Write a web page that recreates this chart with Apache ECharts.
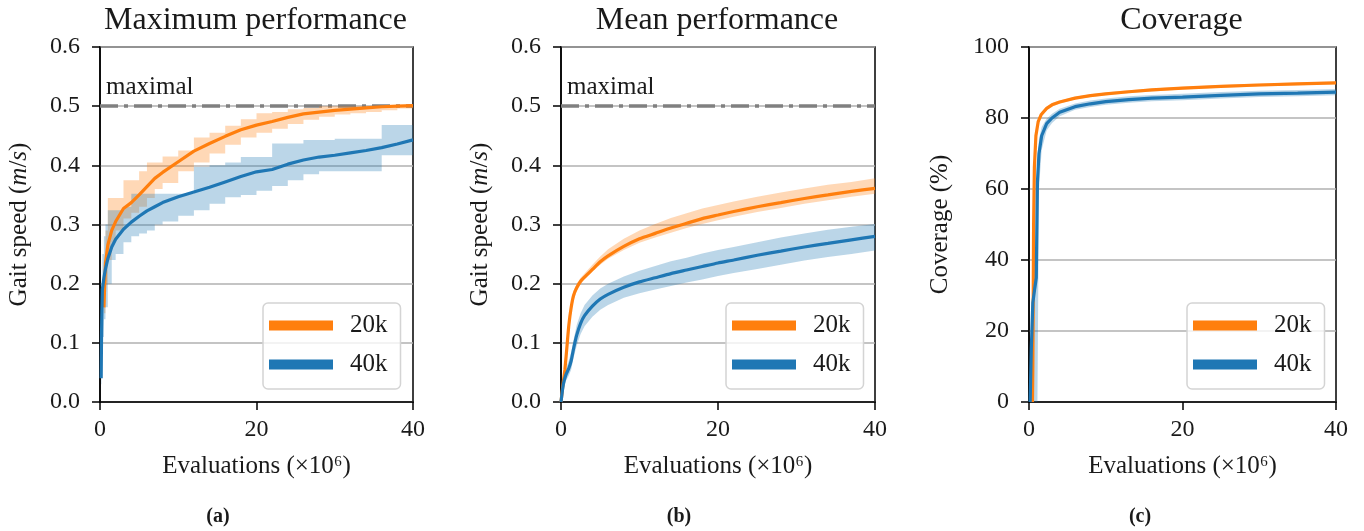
<!DOCTYPE html>
<html>
<head>
<meta charset="utf-8">
<script src="https://cdn.jsdelivr.net/npm/echarts@6/dist/echarts.min.js"></script>
<style>
  html, body { margin: 0; padding: 0; background: #fff; }
  #chart { width: 1364px; height: 531px; }
</style>
</head>
<body>
<div id="chart"></div>
<script>
// panel (a) maximum performance, x in millions of evaluations
const maxX20 = [0.5, 0.7, 1, 1.5, 2, 3, 4, 5, 6, 7, 8, 10, 12, 14, 16, 18, 20, 22, 24, 26, 28, 30, 32, 34, 36, 38, 40];
const maxMean20 = [0.16, 0.235, 0.265, 0.29, 0.305, 0.327, 0.337, 0.35, 0.364, 0.378, 0.388, 0.406, 0.424, 0.437, 0.449, 0.46, 0.468, 0.474, 0.481, 0.487, 0.49, 0.493, 0.495, 0.497, 0.499, 0.5, 0.501];
const maxLo20 = [0.15, 0.2, 0.24, 0.27, 0.29, 0.31, 0.32, 0.33, 0.345, 0.36, 0.37, 0.39, 0.405, 0.42, 0.435, 0.447, 0.455, 0.462, 0.47, 0.477, 0.482, 0.486, 0.488, 0.49, 0.493, 0.496, 0.498];
const maxHi20 = [0.2, 0.29, 0.345, 0.345, 0.345, 0.375, 0.375, 0.39, 0.405, 0.405, 0.415, 0.425, 0.447, 0.455, 0.467, 0.478, 0.488, 0.49, 0.495, 0.497, 0.5, 0.5, 0.5, 0.5, 0.5, 0.5, 0.502];

const maxX40 = [0.15, 0.2, 0.3, 0.5, 0.7, 1, 1.5, 2, 3, 4, 5, 6, 7, 8, 10, 12, 14, 16, 18, 20, 22, 24, 26, 28, 30, 32, 34, 36, 38, 40];
const maxMean40 = [0.04, 0.12, 0.19, 0.21, 0.225, 0.242, 0.262, 0.275, 0.292, 0.304, 0.314, 0.323, 0.33, 0.337, 0.347, 0.355, 0.363, 0.372, 0.381, 0.389, 0.393, 0.402, 0.409, 0.414, 0.417, 0.421, 0.425, 0.43, 0.436, 0.443];
const maxLo40 = [0.03, 0.08, 0.11, 0.14, 0.16, 0.2, 0.24, 0.25, 0.27, 0.28, 0.285, 0.29, 0.3, 0.305, 0.315, 0.324, 0.335, 0.346, 0.35, 0.357, 0.365, 0.375, 0.385, 0.39, 0.39, 0.39, 0.39, 0.417, 0.417, 0.42];
const maxHi40 = [0.1, 0.19, 0.25, 0.28, 0.3, 0.324, 0.324, 0.324, 0.33, 0.352, 0.352, 0.352, 0.352, 0.352, 0.352, 0.397, 0.4, 0.405, 0.414, 0.414, 0.437, 0.437, 0.443, 0.443, 0.445, 0.445, 0.445, 0.468, 0.468, 0.468];

// panel (b) mean performance
const meanX20 = [0, 0.3, 0.5, 0.8, 1, 1.3, 1.6, 2, 2.5, 3, 4, 5, 6, 8, 10, 12, 14, 16, 18, 20, 22, 25, 28, 31, 34, 37, 40];
const meanMean20 = [0, 0.035, 0.055, 0.1, 0.13, 0.16, 0.18, 0.193, 0.204, 0.211, 0.224, 0.237, 0.247, 0.263, 0.276, 0.285, 0.294, 0.302, 0.31, 0.316, 0.322, 0.33, 0.337, 0.344, 0.35, 0.356, 0.361];
const meanLo20 = [0, 0.025, 0.045, 0.09, 0.12, 0.15, 0.172, 0.187, 0.199, 0.207, 0.22, 0.232, 0.242, 0.257, 0.269, 0.278, 0.286, 0.294, 0.301, 0.307, 0.313, 0.321, 0.328, 0.335, 0.341, 0.347, 0.352];
const meanHi20 = [0, 0.045, 0.065, 0.11, 0.14, 0.17, 0.188, 0.2, 0.21, 0.217, 0.232, 0.246, 0.258, 0.276, 0.29, 0.301, 0.311, 0.319, 0.327, 0.333, 0.339, 0.347, 0.354, 0.361, 0.367, 0.372, 0.378];

const meanX40 = [0, 0.3, 0.6, 1, 1.3, 1.6, 2, 2.5, 3, 4, 5, 6, 8, 10, 12, 14, 16, 18, 20, 22, 25, 28, 31, 34, 37, 40];
const meanMean40 = [0, 0.03, 0.045, 0.057, 0.07, 0.09, 0.113, 0.133, 0.146, 0.162, 0.174, 0.182, 0.194, 0.203, 0.21, 0.217, 0.223, 0.229, 0.235, 0.24, 0.248, 0.255, 0.262, 0.268, 0.274, 0.28];
const meanLo40 = [0, 0.02, 0.035, 0.045, 0.055, 0.075, 0.095, 0.115, 0.128, 0.144, 0.156, 0.164, 0.176, 0.184, 0.19, 0.196, 0.202, 0.207, 0.213, 0.218, 0.225, 0.232, 0.239, 0.245, 0.25, 0.256];
const meanHi40 = [0, 0.04, 0.055, 0.07, 0.085, 0.105, 0.13, 0.15, 0.164, 0.18, 0.192, 0.2, 0.212, 0.222, 0.23, 0.238, 0.244, 0.251, 0.257, 0.262, 0.27, 0.278, 0.285, 0.291, 0.296, 0.301];

// panel (c) coverage in %
const covX20 = [0.45, 0.5, 0.55, 0.6, 0.7, 0.9, 1.2, 1.6, 2.3, 3, 4, 6, 8, 10, 13, 16, 20, 25, 30, 35, 40];
const covMean20 = [0, 10, 30, 50, 66, 75, 79, 81, 82.7, 83.7, 84.5, 85.6, 86.3, 86.8, 87.4, 87.9, 88.4, 88.9, 89.3, 89.6, 89.9];
const covLo20 = [0, 9, 28, 47, 63, 73.5, 78.2, 80.4, 82.2, 83.2, 84.1, 85.2, 85.9, 86.4, 87.0, 87.5, 88.0, 88.5, 88.9, 89.2, 89.5];
const covHi20 = [1, 12, 32, 53, 68, 76.2, 79.7, 81.6, 83.2, 84.2, 84.9, 86.0, 86.7, 87.2, 87.8, 88.3, 88.8, 89.3, 89.7, 90.0, 90.3];

const covX40 = [0.15, 0.3, 0.5, 0.75, 0.95, 1.0, 1.1, 1.3, 1.65, 2.3, 3, 4, 6, 8, 10, 13, 16, 20, 25, 30, 35, 40];
const covMean40 = [0, 15, 28, 32, 35, 45, 62, 70, 75, 78.4, 80, 81.6, 83.2, 84, 84.6, 85.2, 85.6, 85.9, 86.4, 86.8, 87.0, 87.3];
const covLo40 = [0, 0, 0, 0, 0, 0, 0, 60, 71, 76.5, 78.6, 80.5, 82.3, 83.1, 83.7, 84.3, 84.7, 85.0, 85.5, 85.9, 86.1, 86.4];
const covHi40 = [2, 25, 34, 38, 42, 55, 68, 74, 77.5, 79.8, 81.2, 82.6, 84.1, 84.9, 85.5, 86.1, 86.5, 86.8, 87.3, 87.7, 87.9, 88.2];

const maxSpeed = 0.5;
const titles = ['Maximum performance', 'Mean performance', 'Coverage'];
const subLabels = ['(a)', '(b)', '(c)'];

const ORANGE = '#ff7f0e';
const BLUE = '#1f77b4';
const FONT = 'Liberation Serif';
const INK = '#1a1a1a';

const grids = [
  { left: 100, top: 47, width: 313, height: 355 },
  { left: 561, top: 47, width: 314, height: 355 },
  { left: 1029, top: 47, width: 307, height: 355 }
];

const pairs = (xs, ys) => xs.map((x, i) => [x, ys[i]]);

// shaded min/max band drawn as one polygon through the axis scales
function band(gi, xs, lo, hi, color, step) {
  return {
    type: 'custom', xAxisIndex: gi, yAxisIndex: gi, silent: true, z: 1,
    data: xs.map((x, i) => [x, lo[i], hi[i]]),
    encode: { x: 0, y: [1, 2] },
    renderItem: function (params, api) {
      if (params.dataIndex !== 0) return null;
      const top = [], bot = [];
      xs.forEach((x, i) => {
        if (step && i > 0) {
          top.push(api.coord([x, hi[i - 1]]));
          bot.push(api.coord([x, lo[i - 1]]));
        }
        top.push(api.coord([x, hi[i]]));
        bot.push(api.coord([x, lo[i]]));
      });
      return {
        type: 'polygon',
        shape: { points: top.concat(bot.reverse()) },
        style: { fill: color, opacity: 0.3 }
      };
    }
  };
}

function meanLine(gi, name, xs, ys, color, smooth) {
  return {
    type: 'line', name: name, xAxisIndex: gi, yAxisIndex: gi,
    data: pairs(xs, ys), symbol: 'none', smooth: smooth || false, z: 3,
    lineStyle: { color: color, width: 3.2 }, itemStyle: { color: color }
  };
}

function maximalLine(gi) {
  return {
    type: 'line', name: 'maximal' + gi, xAxisIndex: gi, yAxisIndex: gi,
    data: [], silent: true, symbol: 'none',
    markLine: {
      z: 1, silent: true, symbol: 'none',
      lineStyle: { color: '#808080', width: 3.5, type: [18, 6, 4, 6] },
      label: {
        position: 'insideStartTop', formatter: 'maximal', distance: 6,
        fontFamily: FONT, fontSize: 25, color: INK
      },
      data: [{ yAxis: maxSpeed }]
    }
  };
}

const series = [].concat(
  maximalLine(0),
  band(0, maxX20, maxLo20, maxHi20, ORANGE, true),
  band(0, maxX40, maxLo40, maxHi40, BLUE, true),
  meanLine(0, '20k', maxX20, maxMean20, ORANGE),
  meanLine(0, '40k', maxX40, maxMean40, BLUE),
  maximalLine(1),
  band(1, meanX20, meanLo20, meanHi20, ORANGE),
  band(1, meanX40, meanLo40, meanHi40, BLUE),
  meanLine(1, '20k', meanX20, meanMean20, ORANGE, 0.2),
  meanLine(1, '40k', meanX40, meanMean40, BLUE, 0.2),
  band(2, covX20, covLo20, covHi20, ORANGE),
  band(2, covX40, covLo40, covHi40, BLUE),
  meanLine(2, '20k', covX20, covMean20, ORANGE),
  meanLine(2, '40k', covX40, covMean40, BLUE)
);

const tickLine = { show: true, length: 8, lineStyle: { color: '#000', width: 1.5 } };
const axisLine = { show: true, lineStyle: { color: '#000', width: 1.5 } };
const labelFont = { fontFamily: FONT, fontSize: 24, color: INK };

const xAxis = grids.map((g, i) => ({
  type: 'value', gridIndex: i, min: 0, max: 40, interval: 20,
  name: 'Evaluations (\u00d710\u2076)', nameLocation: 'middle', nameGap: 52,
  nameTextStyle: { fontFamily: FONT, fontSize: 25, color: INK },
  axisLine: axisLine, axisTick: tickLine,
  axisLabel: Object.assign({ margin: 16 }, labelFont),
  splitLine: { show: false }
}));

const yNames = ['Gait speed ({it|m}/{it|s})', 'Gait speed ({it|m}/{it|s})', 'Coverage (%)'];
const yAxis = grids.map((g, i) => ({
  type: 'value', gridIndex: i, min: 0,
  max: i < 2 ? 0.6 : 100, interval: i < 2 ? 0.1 : 20,
  name: yNames[i], nameLocation: 'middle', nameGap: i < 2 ? 68 : 76,
  nameTextStyle: {
    fontFamily: FONT, fontSize: 25, color: INK,
    rich: { it: { fontFamily: FONT, fontSize: 25, fontStyle: 'italic', color: INK } }
  },
  axisLine: axisLine, axisTick: tickLine,
  axisLabel: Object.assign({
    margin: 20,
    formatter: v => (i < 2 ? v.toFixed(1) : String(v))
  }, labelFont),
  splitLine: { show: true, lineStyle: { color: '#b0b0b0', width: 1.5 } }
}));

const legendLeft = [263, 726, 1187];
const legend = legendLeft.map(l => ({
  left: l, top: 303, orient: 'vertical', data: ['20k', '40k'],
  icon: 'rect', itemWidth: 64, itemHeight: 10, itemGap: 14,
  padding: [10, 13, 12, 6], selectedMode: false,
  borderColor: '#d4d4d4', borderWidth: 1.5, borderRadius: 5,
  backgroundColor: 'rgba(255,255,255,0.8)',
  textStyle: { fontFamily: FONT, fontSize: 25, color: INK, padding: [0, 0, 0, 12] }
}));

const graphic = [];
grids.forEach((g, i) => {
  graphic.push({
    type: 'text', x: g.left + g.width / 2 - 1, y: 21,
    style: { text: titles[i], fontFamily: FONT, fontSize: 32, fill: INK, textAlign: 'center', textVerticalAlign: 'middle' }
  });
});
[218, 679, 1140].forEach((x, i) => {
  graphic.push({
    type: 'text', x: x, y: 517,
    style: { text: subLabels[i], fontFamily: FONT, fontSize: 20, fontWeight: 'bold', fill: INK, textAlign: 'center', textVerticalAlign: 'middle' }
  });
});

const chart = echarts.init(document.getElementById('chart'), null, { renderer: 'canvas' });
chart.setOption({
  animation: false,
  backgroundColor: '#fff',
  grid: grids.map(g => Object.assign({ show: true, borderColor: '#000', borderWidth: 1.5, containLabel: false }, g)),
  xAxis: xAxis,
  yAxis: yAxis,
  legend: legend,
  graphic: graphic,
  series: series
});
</script>
</body>
</html>
